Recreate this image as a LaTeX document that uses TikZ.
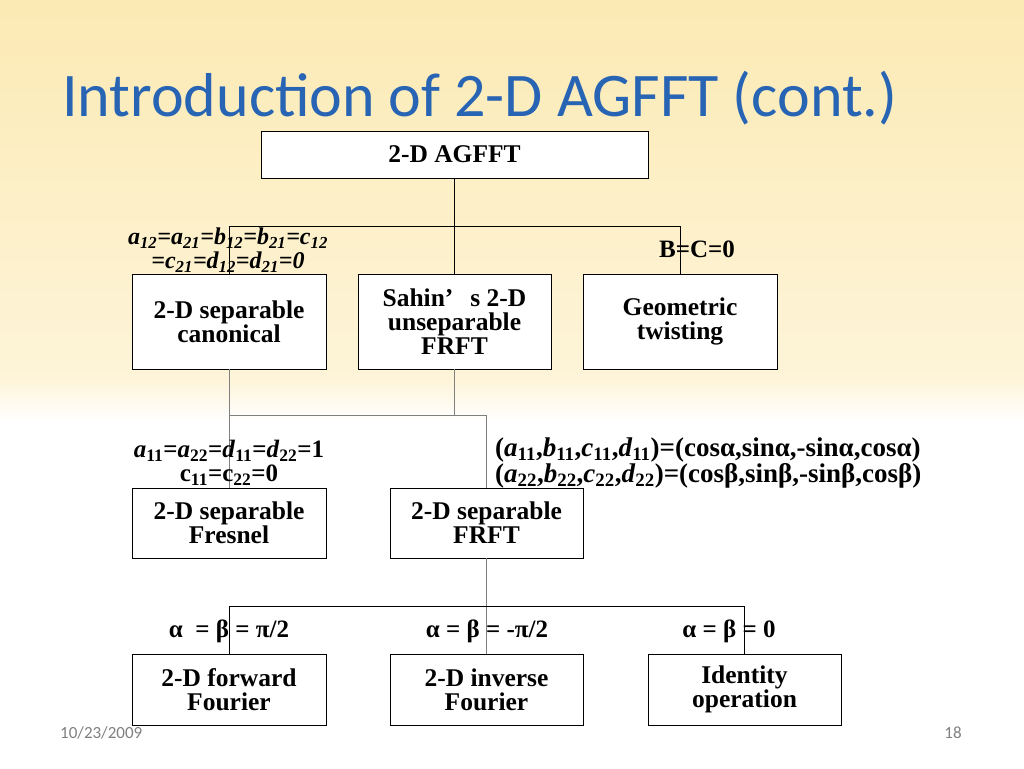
\documentclass[tikz,border=0pt]{standalone}
\usepackage{fontspec}
\setmainfont{Liberation Serif}
\newfontfamily\titlefont{Carlito}
\begin{document}
\begin{tikzpicture}[x=1pt,y=-1pt,
  box/.style={draw,line width=0.8pt,fill=white,inner sep=0pt,font=\fontsize{25.5}{24}\selectfont\bfseries,align=center},
  lbl/.style={font=\fontsize{25}{24}\selectfont\bfseries,align=center,inner sep=0pt},
  blk/.style={line width=0.9pt},
  gry/.style={line width=0.6pt,gray}]
\definecolor{bgy}{RGB}{252,234,180}
\definecolor{tblue}{RGB}{40,100,180}
\shade[top color=bgy,bottom color=white,middle color=bgy!50] (0,0) rectangle (1024,768);
\fill[white] (0,420) rectangle (1024,768);
\shade[top color=bgy!50,bottom color=white] (0,380) rectangle (1024,421);
\useasboundingbox (0,0) rectangle (1024,768);
\node[anchor=west,text=tblue,font=\titlefont\fontsize{62}{66}\selectfont,inner sep=0pt] (title) at (62,98) {Introduction of 2-D AGFFT (cont.)};
\node[box,minimum width=387pt,minimum height=47pt] (top) at (454.5,154.5) {2-D AGFFT};
\node[box,minimum width=194pt,minimum height=95pt] (can) at (229,321.5) {2-D separable\\canonical};
\node[box,minimum width=193pt,minimum height=95pt] (sah) at (454.5,321.5) {Sahin\rlap{’}\hspace{1em}s 2-D\\unseparable\\FRFT};
\node[box,minimum width=194pt,minimum height=95pt] (geo) at (680,321.5) {Geometric\\twisting};
\node[box,minimum width=194pt,minimum height=70pt] (fre) at (229,523) {2-D separable\\Fresnel};
\node[box,minimum width=193pt,minimum height=70pt] (frt) at (486.5,523) {2-D separable\\FRFT};
\node[box,minimum width=194pt,minimum height=71pt] (fwd) at (229,689.5) {2-D forward\\Fourier};
\node[box,minimum width=193pt,minimum height=71pt] (inv) at (486.5,689.5) {2-D inverse\\Fourier};
\node[box,minimum width=193pt,minimum height=71pt] (idn) at (744.5,689.5) {Identity\\operation};
% level 1
\coordinate (h1) at (454.5,226);
\draw[blk] (top.south) -- (h1);
\draw[blk] (can.north) |- (geo.north |- h1) -- (geo.north);
\draw[blk] (h1) -- (sah.north);
% level 2
\coordinate (h2) at (486.5,415);
\draw[gry] (can.south) -- (fre.north);
\draw[gry] (sah.south) -- (sah.south |- h2);
\draw[gry] (can.south |- h2) -- (h2) -- (frt.north);
% level 3
\coordinate (h3) at (486.5,606);
\draw[gry] (frt.south) -- (inv.north);
\draw[blk] (fwd.north) |- (idn.north |- h3) -- (idn.north);
% labels
\node[lbl,font=\fontsize{24}{24}\selectfont\bfseries\itshape] (l1) at (228,250) {a\textsubscript{12}=a\textsubscript{21}=b\textsubscript{12}=b\textsubscript{21}=c\textsubscript{12}\\=c\textsubscript{21}=d\textsubscript{12}=d\textsubscript{21}=0};
\node[lbl] (l2) at (697,249) {B=C=0};
\node[lbl,align=center] (l3) at (229,463) {\textit{a}\textsubscript{11}=\textit{a}\textsubscript{22}=\textit{d}\textsubscript{11}=\textit{d}\textsubscript{22}=1\\c\textsubscript{11}=c\textsubscript{22}=0};
\node[lbl,align=left,anchor=west,font=\fontsize{27}{24}\selectfont\bfseries] (l4) at (495,463) {(\textit{a}\textsubscript{11},\textit{b}\textsubscript{11},\textit{c}\textsubscript{11},\textit{d}\textsubscript{11})=(cosα,sinα,-sinα,cosα)\\(\textit{a}\textsubscript{22},\textit{b}\textsubscript{22},\textit{c}\textsubscript{22},\textit{d}\textsubscript{22})=(cosβ,sinβ,-sinβ,cosβ)};
\node[lbl] (l5) at (229,631) {α\ \ = β = π/2};
\node[lbl] (l6) at (487,631) {α = β = -π/2};
\node[lbl] (l7) at (729,631) {α = β = 0};
\node[anchor=west,text=gray,font=\titlefont\fontsize{17}{19}\selectfont,inner sep=0pt] (date) at (60,733) {10/23/2009};
\node[text=gray,font=\titlefont\fontsize{17}{19}\selectfont,inner sep=0pt] (pg) at (953,733) {18};
\end{tikzpicture}
\end{document}
